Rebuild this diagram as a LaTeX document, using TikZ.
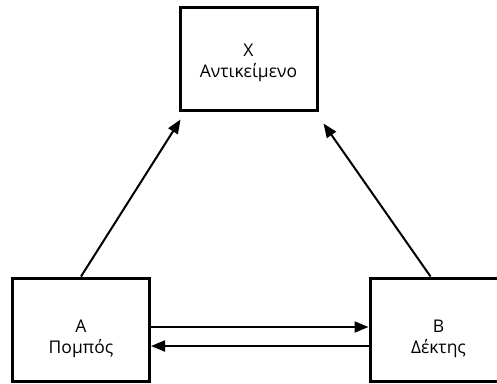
\documentclass[tikz,border=0pt]{standalone}
\usepackage{fontspec}
\setmainfont{Open Sans}
\usetikzlibrary{arrows.meta}
\begin{document}
\begin{tikzpicture}[x=1pt,y=-1pt,
        box/.style={draw,line width=3pt,minimum width=137pt,minimum height=103pt,inner sep=0pt},
        boxtext/.style={align=center,inner sep=0pt,font=\fontsize{17.5}{21}\selectfont},
        arr/.style={line width=2pt,-{Triangle[length=14pt,width=11pt]}}]
        \useasboundingbox (0,0) rectangle (497,383);
        \node[box] (X) at (248.5,58.5) {};
        \node[box] (A) at (81,329.5) {};
        \node[box] (B) at (438.5,329.5) {};
        \node[boxtext] (X-text) at ([yshift=-4pt]X.center) {Χ\\Αντικείμενο};
        \node[boxtext] (A-text) at ([yshift=-9pt]A.center) {Α\\Πομπός};
        \node[boxtext] (B-text) at ([yshift=-9pt]B.center) {Β\\Δέκτης};
        \draw[arr] (A.north) -- ([shift={(2pt,-8pt)}]X.south west);
        \draw[arr] ([xshift=-8pt]B.north) -- ([shift={(5pt,-12pt)}]X.south east);
        \draw[arr] ([yshift=2.5pt]A.east) -- ([yshift=2.5pt]B.west);
        \draw[arr] ([yshift=-16.5pt]B.west) -- ([yshift=-16.5pt]A.east);
\end{tikzpicture}
\end{document}
